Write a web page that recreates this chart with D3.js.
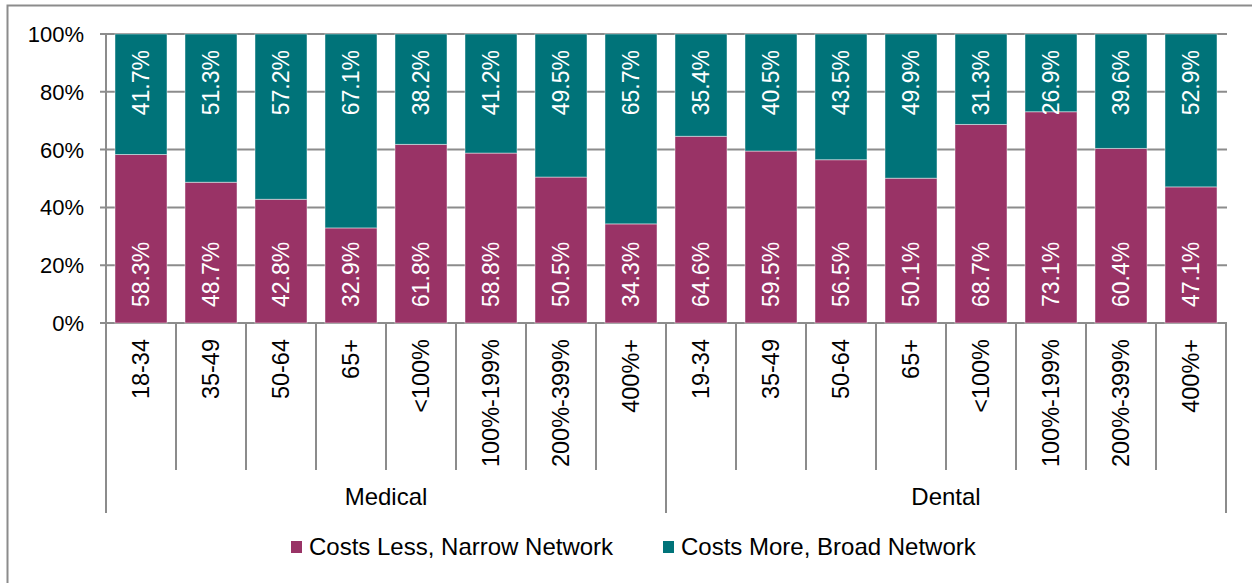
<!DOCTYPE html>
<html>
<head>
<meta charset="utf-8">
<script src="https://cdn.jsdelivr.net/npm/d3@7"></script>
<style>
  body { margin: 0; background: #fff; }
  svg { display: block; font-family: 'Liberation Sans', Arial, sans-serif; }
</style>
</head>
<body>
<svg id="chart" width="1252" height="583"></svg>
<script>
// values
var categories = ['18-34', '35-49', '50-64', '65+', '<100%', '100%-199%', '200%-399%', '400%+',
                  '19-34', '35-49', '50-64', '65+', '<100%', '100%-199%', '200%-399%', '400%+']
var groups = ['Medical', 'Dental']
var narrow = [58.3, 48.7, 42.8, 32.9, 61.8, 58.8, 50.5, 34.3, 64.6, 59.5, 56.5, 50.1, 68.7, 73.1, 60.4, 47.1]
var broad  = [41.7, 51.3, 57.2, 67.1, 38.2, 41.2, 49.5, 65.7, 35.4, 40.5, 43.5, 49.9, 31.3, 26.9, 39.6, 52.9]
var seriesNames = ['Costs Less, Narrow Network', 'Costs More, Broad Network']
var yTicks = [0, 20, 40, 60, 80, 100]

var colors = ['#993366', '#007379']
var gridColor = '#8c8c8c'

var svg = d3.select('#chart')

// outer frame
svg.append('rect')
  .attr('x', 7.5).attr('y', 5.5)
  .attr('width', 1260).attr('height', 600)
  .attr('fill', 'none')
  .attr('stroke', gridColor).attr('stroke-width', 2)

var plotLeft = 106, plotRight = 1226, plotTop = 34, plotBottom = 323

var x = d3.scaleBand()
  .domain(d3.range(categories.length))
  .range([plotLeft, plotRight])
  .paddingInner(18 / 70).paddingOuter(9 / 70)

var y = d3.scaleLinear().domain([0, 100]).range([plotBottom, plotTop])

// gridlines + y labels
svg.append('g').selectAll('line')
  .data(yTicks)
  .join('line')
  .attr('x1', plotLeft - 6).attr('x2', plotRight + 1)
  .attr('y1', d => y(d)).attr('y2', d => y(d))
  .attr('stroke', gridColor).attr('stroke-width', 2)

svg.append('g').selectAll('text')
  .data(yTicks)
  .join('text')
  .attr('x', 84).attr('y', d => y(d))
  .attr('dy', '0.36em')
  .attr('text-anchor', 'end')
  .style('font-size', '22px')
  .text(d => d + '%')

// stacked bars
var rows = categories.map((c, i) => ({i: i, narrow: narrow[i], broad: broad[i]}))
var stack = d3.stack().keys(['narrow', 'broad'])(rows)

var layer = svg.append('g').selectAll('g')
  .data(stack)
  .join('g')
  .attr('fill', (d, i) => colors[i])

layer.selectAll('rect')
  .data(d => d)
  .join('rect')
  .attr('x', d => x(d.data.i))
  .attr('width', x.bandwidth())
  .attr('y', d => y(d[1]))
  .attr('height', d => y(d[0]) - y(d[1]))
  .attr('stroke', 'rgba(255,255,255,0.45)').attr('stroke-width', 1)

// value labels: narrow near base, broad near top
var labels = svg.append('g')
  .attr('fill', '#fff')
  .style('font-size', '23px')

labels.selectAll('text.lo')
  .data(rows)
  .join('text')
  .attr('class', 'lo')
  .attr('transform', d => `translate(${x(d.i) + x.bandwidth() / 2},${y(0) - 16}) rotate(-90)`)
  .attr('dy', '0.36em')
  .attr('text-anchor', 'start')
  .text(d => d.narrow.toFixed(1) + '%')

labels.selectAll('text.hi')
  .data(rows)
  .join('text')
  .attr('class', 'hi')
  .attr('transform', d => `translate(${x(d.i) + x.bandwidth() / 2},${y(100) + 16}) rotate(-90)`)
  .attr('dy', '0.36em')
  .attr('text-anchor', 'end')
  .text(d => d.broad.toFixed(1) + '%')

// category axis
var step = x.step()
var perGroup = categories.length / groups.length
svg.append('g').selectAll('line')
  .data(d3.range(categories.length + 1))
  .join('line')
  .attr('x1', i => plotLeft + i * step).attr('x2', i => plotLeft + i * step)
  .attr('y1', i => i == 0 ? plotTop : plotBottom)
  .attr('y2', i => i % perGroup == 0 ? 513 : 470)
  .attr('stroke', gridColor).attr('stroke-width', 2)

svg.append('g').selectAll('text')
  .data(categories)
  .join('text')
  .attr('transform', (d, i) => `translate(${x(i) + x.bandwidth() / 2},${plotBottom + 16}) rotate(-90)`)
  .attr('dy', '0.36em')
  .attr('text-anchor', 'end')
  .style('font-size', '23.5px')
  .text(d => d)

svg.append('g').selectAll('text')
  .data(groups)
  .join('text')
  .attr('x', (d, i) => plotLeft + (i + 0.5) * perGroup * step)
  .attr('y', 505)
  .attr('text-anchor', 'middle')
  .style('font-size', '24px')
  .text(d => d)

// legend
var legendX = [291, 663]
var legend = svg.append('g').selectAll('g')
  .data(seriesNames)
  .join('g')
  .attr('transform', (d, i) => `translate(${legendX[i]},541)`)

legend.append('rect')
  .attr('width', 11).attr('height', 12)
  .attr('fill', (d, i) => colors[i])

legend.append('text')
  .attr('x', 18).attr('y', 14)
  .style('font-size', '24px')
  .text(d => d)
</script>
</body>
</html>
